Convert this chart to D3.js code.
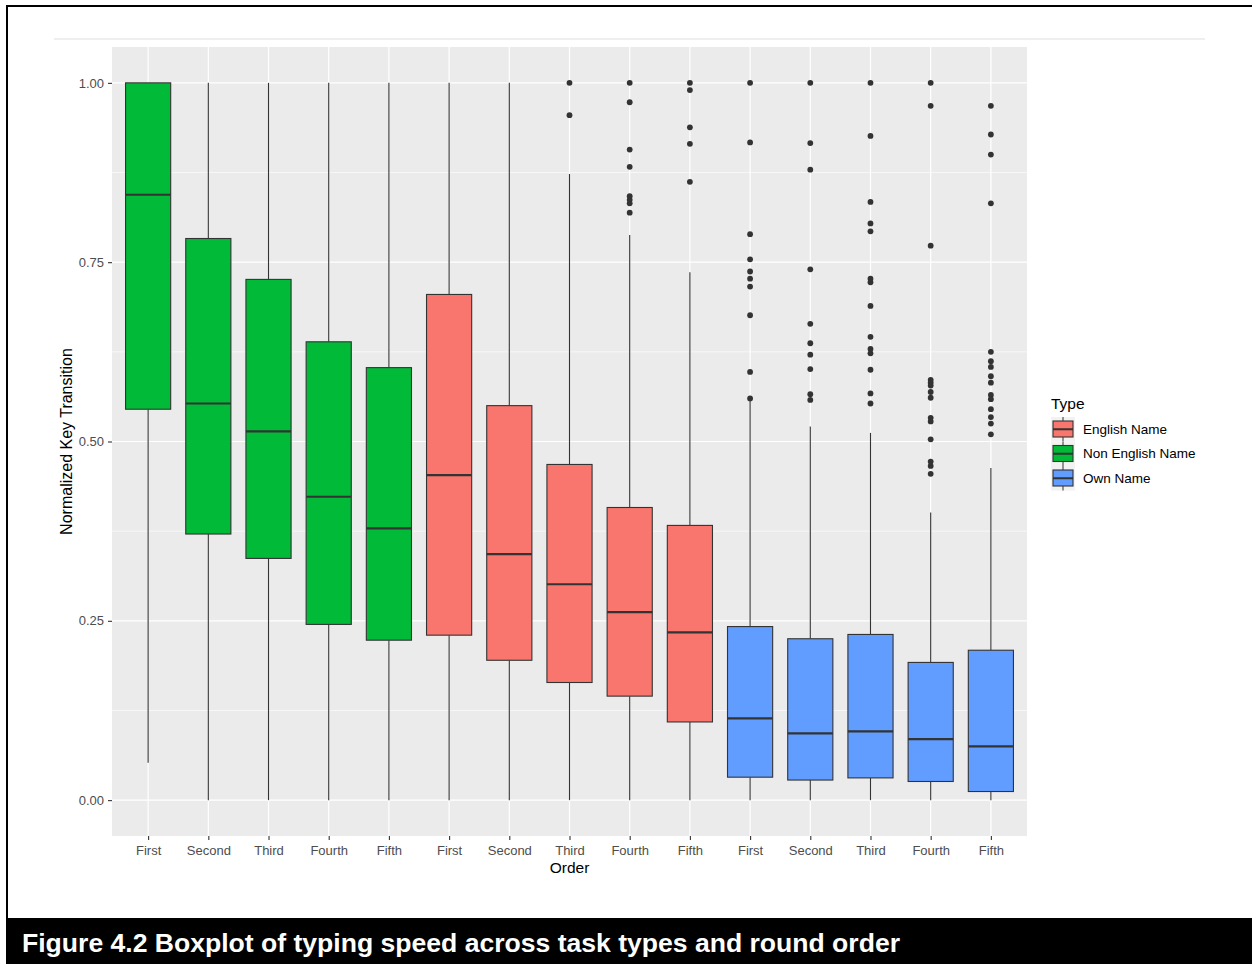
<!DOCTYPE html>
<html>
<head>
<meta charset="utf-8">
<script src="https://cdn.jsdelivr.net/npm/d3@7"></script>
<style>
  html, body { margin: 0; padding: 0; background: #ffffff; }
  svg { display: block; font-family: "Liberation Sans", Arial, sans-serif; }
</style>
</head>
<body>
<svg id="chart" width="1252" height="964"></svg>
<script>
// Rounds of the task, repeated within each task type
const orders = ["First", "Second", "Third", "Fourth", "Fifth"];
// Task types in the order the groups are laid out along x
const groupOrder = ["Non English Name", "English Name", "Own Name"];
// Legend order
const legendTypes = ["English Name", "Non English Name", "Own Name"];
const typeColors = ["#F8766D", "#00BA38", "#619CFF"];

// Five-number summaries, one entry per round (First..Fifth)
const nonEnglishQ1     = [0.545, 0.371, 0.337, 0.245, 0.223];
const nonEnglishMedian = [0.844, 0.553, 0.514, 0.423, 0.379];
const nonEnglishQ3     = [1.000, 0.783, 0.726, 0.639, 0.603];
const nonEnglishLow    = [0.052, 0.000, 0.000, 0.000, 0.000];
const nonEnglishHigh   = [1.000, 1.000, 1.000, 1.000, 1.000];
const nonEnglishOutliers = [[], [], [], [], []];

const englishQ1     = [0.230, 0.195, 0.164, 0.145, 0.109];
const englishMedian = [0.453, 0.343, 0.301, 0.262, 0.234];
const englishQ3     = [0.705, 0.550, 0.468, 0.408, 0.383];
const englishLow    = [0.000, 0.000, 0.000, 0.000, 0.000];
const englishHigh   = [1.000, 1.000, 0.873, 0.788, 0.736];
const englishOutliers = [
  [],
  [],
  [1.000, 0.955],
  [1.000, 0.973, 0.907, 0.883, 0.842, 0.837, 0.832, 0.819],
  [1.000, 0.990, 0.938, 0.915, 0.862]
];

const ownQ1     = [0.032, 0.028, 0.031, 0.026, 0.012];
const ownMedian = [0.114, 0.093, 0.096, 0.085, 0.075];
const ownQ3     = [0.242, 0.225, 0.231, 0.192, 0.209];
const ownLow    = [0.000, 0.000, 0.000, 0.000, 0.000];
const ownHigh   = [0.557, 0.521, 0.512, 0.401, 0.463];
const ownOutliers = [
  [1.000, 0.917, 0.789, 0.754, 0.737, 0.727, 0.716, 0.676, 0.597, 0.560],
  [1.000, 0.916, 0.879, 0.740, 0.664, 0.637, 0.621, 0.601, 0.566, 0.558],
  [1.000, 0.926, 0.834, 0.804, 0.793, 0.727, 0.722, 0.689, 0.646, 0.629, 0.623, 0.600, 0.567, 0.553],
  [1.000, 0.968, 0.773, 0.586, 0.582, 0.578, 0.569, 0.561, 0.533, 0.528, 0.503, 0.472, 0.466, 0.455],
  [0.968, 0.928, 0.900, 0.832, 0.625, 0.612, 0.604, 0.591, 0.582, 0.565, 0.559, 0.545, 0.534, 0.525, 0.510]
];

const yTicks = [0, 0.25, 0.5, 0.75, 1];
const yMinor = [0.125, 0.375, 0.625, 0.875];

const summaries = {
  "Non English Name": [nonEnglishQ1, nonEnglishMedian, nonEnglishQ3, nonEnglishLow, nonEnglishHigh, nonEnglishOutliers],
  "English Name":     [englishQ1, englishMedian, englishQ3, englishLow, englishHigh, englishOutliers],
  "Own Name":         [ownQ1, ownMedian, ownQ3, ownLow, ownHigh, ownOutliers]
};

const boxes = [];
groupOrder.forEach(type => {
  const [q1, med, q3, lo, hi, out] = summaries[type];
  orders.forEach((o, i) => {
    boxes.push({ key: type + "|" + o, type, order: o,
      q1: q1[i], median: med[i], q3: q3[i], low: lo[i], high: hi[i], outliers: out[i] });
  });
});

const svg = d3.select("#chart");
const W = 1252, H = 964;
const panel = { left: 112, right: 1027, top: 47, bottom: 836 };

// Page frame
svg.append("rect").attr("x", 7).attr("y", 6).attr("width", W).attr("height", H)
  .attr("fill", "none").attr("stroke", "#000").attr("stroke-width", 2);
svg.append("line").attr("x1", 54).attr("x2", 1205).attr("y1", 39).attr("y2", 39)
  .attr("stroke", "#EFEFEF").attr("stroke-width", 2);

const x = d3.scalePoint().domain(boxes.map(d => d.key))
  .range([panel.left, panel.right]).padding(0.6);
const step = x.step();
const boxW = step * 0.75;

const y = d3.scaleLinear().domain([-0.05, 1.05]).range([panel.bottom, panel.top]);
const color = d3.scaleOrdinal().domain(legendTypes).range(typeColors);

// Panel background and grid
svg.append("rect").attr("x", panel.left).attr("y", panel.top)
  .attr("width", panel.right - panel.left).attr("height", panel.bottom - panel.top)
  .attr("fill", "#EBEBEB");
const grid = svg.append("g");
grid.selectAll(".minor").data(yMinor).join("line")
  .attr("x1", panel.left).attr("x2", panel.right)
  .attr("y1", d => y(d)).attr("y2", d => y(d))
  .attr("stroke", "#fff").attr("stroke-width", 0.6);
grid.selectAll(".major-y").data(yTicks).join("line")
  .attr("x1", panel.left).attr("x2", panel.right)
  .attr("y1", d => y(d)).attr("y2", d => y(d))
  .attr("stroke", "#fff").attr("stroke-width", 1.2);
grid.selectAll(".major-x").data(boxes).join("line")
  .attr("x1", d => x(d.key)).attr("x2", d => x(d.key))
  .attr("y1", panel.top).attr("y2", panel.bottom)
  .attr("stroke", "#fff").attr("stroke-width", 1.2);

// Boxplots
const ink = "#333333";
const g = svg.append("g");
const bx = g.selectAll("g.box").data(boxes).join("g").attr("class", "box");
bx.append("line").attr("x1", d => x(d.key)).attr("x2", d => x(d.key))
  .attr("y1", d => y(d.q3)).attr("y2", d => y(d.high))
  .attr("stroke", ink).attr("stroke-width", 1.1);
bx.append("line").attr("x1", d => x(d.key)).attr("x2", d => x(d.key))
  .attr("y1", d => y(d.q1)).attr("y2", d => y(d.low))
  .attr("stroke", ink).attr("stroke-width", 1.1);
bx.append("rect")
  .attr("x", d => x(d.key) - boxW / 2).attr("width", boxW)
  .attr("y", d => y(d.q3)).attr("height", d => y(d.q1) - y(d.q3))
  .attr("fill", d => color(d.type)).attr("stroke", ink).attr("stroke-width", 1.1);
bx.append("line")
  .attr("x1", d => x(d.key) - boxW / 2).attr("x2", d => x(d.key) + boxW / 2)
  .attr("y1", d => y(d.median)).attr("y2", d => y(d.median))
  .attr("stroke", ink).attr("stroke-width", 2.2);
bx.selectAll("circle").data(d => d.outliers.map(v => ({ key: d.key, v }))).join("circle")
  .attr("cx", d => x(d.key)).attr("cy", d => y(d.v)).attr("r", 2.9)
  .attr("fill", ink);

// Axes
const tickColor = "#4D4D4D";
const xAxis = svg.append("g").attr("transform", `translate(0,${panel.bottom})`)
  .call(d3.axisBottom(x).tickSize(4).tickPadding(4).tickFormat(k => k.split("|")[1]));
const yAxis = svg.append("g").attr("transform", `translate(${panel.left},0)`)
  .call(d3.axisLeft(y).tickValues(yTicks).tickSize(4).tickPadding(4).tickFormat(d3.format(".2f")));
[xAxis, yAxis].forEach(a => {
  a.select(".domain").remove();
  a.selectAll(".tick line").attr("stroke", ink).attr("stroke-width", 1.1);
  a.selectAll(".tick text").attr("fill", tickColor)
    .style("font-family", '"Liberation Sans", Arial, sans-serif').style("font-size", "13px");
});
xAxis.selectAll(".tick text").attr("dy", "0.85em");

svg.append("text").attr("x", (panel.left + panel.right) / 2).attr("y", 873)
  .attr("text-anchor", "middle").attr("font-size", 15.5).attr("fill", "#000").text("Order");
svg.append("text").attr("transform", `translate(72,${(y(0) + y(1)) / 2}) rotate(-90)`)
  .attr("text-anchor", "middle").attr("font-size", 16).attr("fill", "#000")
  .text("Normalized Key Transition");

// Legend
const leg = svg.append("g").attr("transform", "translate(1051,417)");
leg.append("text").attr("x", 0).attr("y", -8).attr("font-size", 15.5).attr("fill", "#000").text("Type");
const keyH = 24.5, keyW = 24;
const items = leg.selectAll("g.item").data(legendTypes).join("g")
  .attr("transform", (d, i) => `translate(0,${i * keyH})`);
items.append("rect").attr("width", keyW).attr("height", keyH).attr("fill", "#F2F2F2");
items.append("line").attr("x1", keyW / 2).attr("x2", keyW / 2).attr("y1", 0).attr("y2", keyH)
  .attr("stroke", ink).attr("stroke-width", 1);
items.append("rect").attr("x", 2).attr("y", 4).attr("width", keyW - 4).attr("height", keyH - 8.5)
  .attr("fill", d => color(d)).attr("stroke", ink).attr("stroke-width", 1.1);
items.append("line").attr("x1", 2).attr("x2", keyW - 2).attr("y1", keyH / 2).attr("y2", keyH / 2)
  .attr("stroke", ink).attr("stroke-width", 2);
items.append("text").attr("x", 32).attr("y", keyH / 2).attr("dy", "0.35em")
  .attr("font-size", 13.5).attr("fill", "#000").text(d => d);

// Caption bar
svg.append("rect").attr("x", 7).attr("y", 918).attr("width", W - 7).attr("height", H - 918).attr("fill", "#000");
svg.append("text").attr("x", 22).attr("y", 952).attr("font-size", 25).attr("font-weight", "bold")
  .attr("textLength", 878).attr("lengthAdjust", "spacingAndGlyphs")
  .attr("fill", "#fff").text("Figure 4.2 Boxplot of typing speed across task types and round order");
</script>
</body>
</html>
